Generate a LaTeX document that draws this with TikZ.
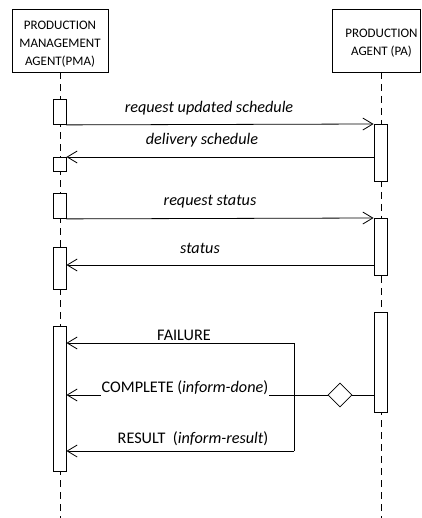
\documentclass[tikz,border=0pt]{standalone}
\usepackage{fontspec}
\setmainfont{Carlito}
\usetikzlibrary{arrows.meta,shapes.geometric}
\begin{document}
\begin{tikzpicture}[x=1pt,y=-1pt,
  headbox/.style={draw,line width=0.9pt,inner sep=0pt,fill=white},
  headtext/.style={align=center,font=\fontsize{13}{18}\selectfont,inner sep=0pt},
  life/.style={line width=0.9pt,dash pattern=on 7pt off 5pt},
  act/.style={draw,line width=0.9pt,fill=white,minimum width=13pt,inner sep=0pt,anchor=north},
  msg/.style={line width=0.8pt,-{Straight Barb[length=10pt,width=12pt,line width=0.8pt]}},
  plain/.style={line width=0.8pt},
  lbl/.style={font=\fontsize{16.2}{18}\selectfont\itshape,inner sep=1pt},
  lblu/.style={font=\fontsize{16.2}{18}\selectfont,inner sep=1pt,fill=white},
  dia/.style={draw,diamond,line width=0.8pt,fill=white,minimum width=24pt,minimum height=24pt,inner sep=0pt}]
\useasboundingbox (0,0) rectangle (421,518);
% headers
\node[headbox,minimum width=96pt,minimum height=63pt] (pma) at (60,40.5) {};
\node[headtext] (pmatext) at (60,44) {PRODUCTION\\MANAGEMENT\\AGENT(PMA)};
\node[headbox,minimum width=88pt,minimum height=63pt] (pa) at (376,40.5) {};
\node[headtext] (patext) at (381.5,43) {PRODUCTION\\AGENT (PA)};
% lifelines
\coordinate (pmaend) at (60,518);
\coordinate (paend) at (381,518);
\draw[life] (pma.south) -- (pmaend);
\draw[life] (381,72) -- (paend);
% activation boxes
\node[act,minimum height=25pt] (a1) at (59.5,99) {};
\node[act,minimum height=14pt] (a2) at (59.5,157) {};
\node[act,minimum height=25pt] (a3) at (59.5,193) {};
\node[act,minimum height=42pt] (a4) at (59.5,247) {};
\node[act,minimum height=145pt] (a5) at (59.5,326) {};
\node[act,minimum height=57pt] (b1) at (380.5,124) {};
\node[act,minimum height=57pt] (b2) at (380.5,218) {};
\node[act,minimum height=100pt] (b3) at (380.5,312) {};
% messages
\draw[msg] (a1.south east) -- (b1.north west);
\node[lbl] (l1) at (209,108) {request updated schedule};
\draw[msg] (b1.west |- a2.north) -- (a2.north east);
\node[lbl] (l2) at (202,140) {delivery schedule};
\draw[msg] (a3.south east) -- (b2.north west);
\node[lbl] (l3) at (210,202) {request status};
\coordinate (m4) at (200,265);
\draw[msg] (b2.west |- m4) -- (a4.east |- m4);
\node[lbl] (l4) at (200,248) {status};
% response group
\node[dia] (d) at (340,395) {};
\coordinate (jt) at (294,343);
\coordinate (jb) at (294,451);
\draw[plain] (b3.west |- d) -- (d.east);
\draw[plain] (jt) -- (jb);
\draw[msg] (jt) -- (a5.east |- jt);
\draw[msg] (d.west) -- (a5.east |- d);
\draw[msg] (jb) -- (a5.east |- jb);
\node[lblu] (l5) at (184,335) {FAILURE};
\node[lblu] (l6) at (185,388) {COMPLETE (\textit{inform-done})};
\node[lblu,fill=none] (l7) at (193,439) {RESULT\ \ (\textit{inform-result})};
\end{tikzpicture}
\end{document}
